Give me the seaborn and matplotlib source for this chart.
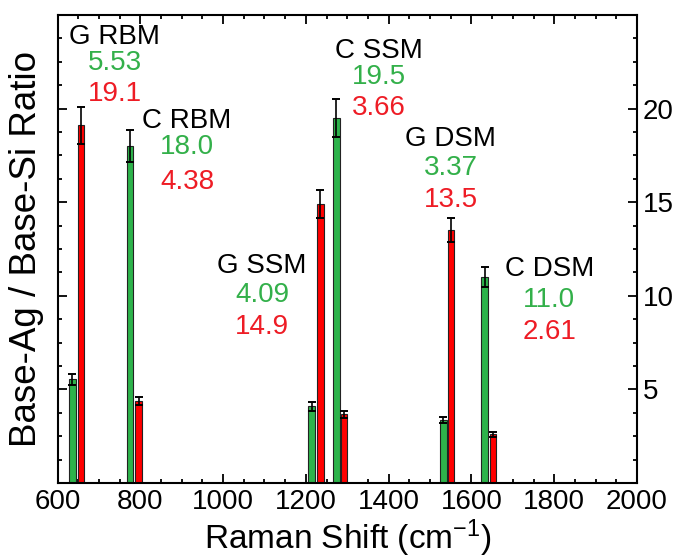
import numpy as np
import pandas as pd
import matplotlib
matplotlib.use("Agg")
import matplotlib.pyplot as plt
from matplotlib.ticker import MultipleLocator, FixedLocator
import seaborn as sns

# Raman modes and the two measured enhancement ratios (green / red series)
modes = ["G RBM", "C RBM", "G SSM", "C SSM", "G DSM", "C DSM"]
green_shift = [636, 775, 1214, 1274, 1532, 1632]
red_shift = [657, 796, 1235, 1292, 1551, 1652]
green_ratio = [5.53, 18.0, 4.09, 19.5, 3.37, 11.0]
red_ratio = [19.1, 4.38, 14.9, 3.66, 13.5, 2.61]
green_err = [0.27, 0.85, 0.22, 1.0, 0.17, 0.55]
red_err = [1.0, 0.22, 0.75, 0.18, 0.65, 0.13]

x_ticks = [600, 800, 1000, 1200, 1400, 1600, 1800, 2000]
y_ticks = [5, 10, 15, 20]

# annotation anchor for each mode: (x centre, y of mode name)
label_x = [738, 913, 1094, 1376, 1550, 1788]
label_y = [23.8, 19.34, 11.6, 23.08, 18.38, 11.42]
line_gap = [(1.36, 3.0), (1.39, 3.26), (1.57, 3.27), (1.39, 3.05), (1.55, 3.26), (1.62, 3.35)]

GREEN = "#2DB34B"
RED = "#FF0000"
GREEN_TXT = "#33B04A"
RED_TXT = "#EE1C25"

sns.set_style("ticks")
plt.rcParams["font.family"] = ["Liberation Sans", "DejaVu Sans"]
plt.rcParams["mathtext.fontset"] = "custom"
plt.rcParams["mathtext.rm"] = "Liberation Sans"
plt.rcParams["mathtext.it"] = "Liberation Sans:italic"
plt.rcParams["mathtext.bf"] = "Liberation Sans:bold"

df = pd.DataFrame({
    "shift": green_shift + red_shift,
    "ratio": green_ratio + red_ratio,
    "series": ["green"] * len(green_shift) + ["red"] * len(red_shift),
})

fig = plt.figure(figsize=(6.77, 5.6), dpi=100)
ax = fig.add_axes([57.5 / 677, 1 - 483 / 560, (637 - 57.5) / 677, (483 - 15) / 560])

sns.barplot(data=df, x="shift", y="ratio", hue="series",
            palette={"green": GREEN, "red": RED}, hue_order=["green", "red"],
            native_scale=True, dodge=False, width=0.9, errorbar=None,
            saturation=1, edgecolor="#222222", linewidth=0.8, legend=False, ax=ax)

for xs, ys, es in [(green_shift, green_ratio, green_err), (red_shift, red_ratio, red_err)]:
    ax.errorbar(xs, ys, yerr=es, fmt="none", ecolor="black",
                elinewidth=1.2, capsize=2.9, capthick=1.4, zorder=5)


def fmt(v):
    return f"{v:.1f}" if v >= 10 else f"{v:.2f}"


for i, name in enumerate(modes):
    x0, y0 = label_x[i], label_y[i]
    g1, g2 = line_gap[i]
    ax.text(x0, y0, name, ha="center", va="center", fontsize=20, color="black")
    ax.text(x0, y0 - g1, fmt(green_ratio[i]), ha="center", va="center",
            fontsize=20, color=GREEN_TXT)
    ax.text(x0, y0 - g2, fmt(red_ratio[i]), ha="center", va="center",
            fontsize=20, color=RED_TXT)

ax.set_xlim(600, 2000)
ax.set_ylim(0, 25)
ax.xaxis.set_major_locator(FixedLocator(x_ticks))
ax.xaxis.set_minor_locator(MultipleLocator(50))
ax.yaxis.set_major_locator(FixedLocator(y_ticks))
ax.yaxis.set_minor_locator(MultipleLocator(1.25))

ax.tick_params(axis="both", which="both", direction="in", top=True, right=True,
               left=True, bottom=True, colors="black", labelsize=20, width=1.3)
ax.tick_params(axis="both", which="major", length=6.5)
ax.tick_params(axis="both", which="minor", length=3)
ax.tick_params(axis="y", labelleft=False, labelright=True, pad=4)
ax.tick_params(axis="x", pad=4)

for s in ax.spines.values():
    s.set_linewidth(1.5)
    s.set_color("black")

ax.set_xlabel("Raman Shift (cm$^{-1}$)", fontsize=24, labelpad=2, color="black")
ax.set_ylabel("Base-Ag / Base-Si Ratio", fontsize=26.5, labelpad=6, color="black")

fig.savefig("out.png", dpi=100)
